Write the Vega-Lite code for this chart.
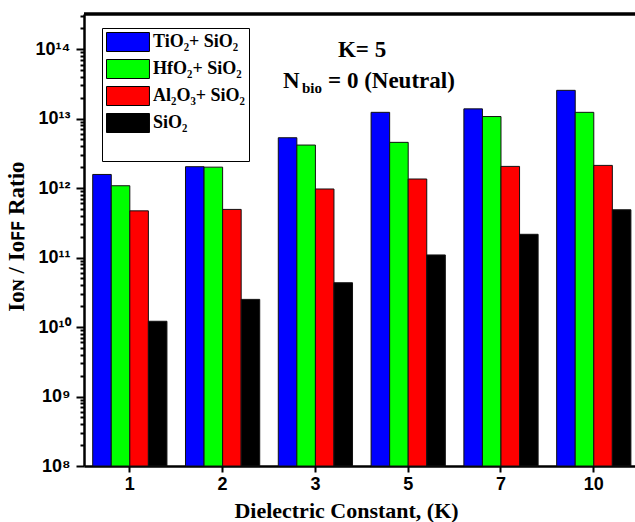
{
  "$schema": "https://vega.github.io/schema/vega-lite/v6.json",
  "width": 551,
  "height": 452,
  "autosize": {"type": "none"},
  "padding": {"left": 84, "top": 14, "right": 0, "bottom": 56},
  "background": "white",
  "config": {
    "view": {"stroke": null},
    "axisY": {"ticks": true, "tickSize": 8, "tickWidth": 2, "tickColor": "black", "tickOpacity": 1}
  },
  "data": {
    "values": [
      {"K": "1", "Material": "TiO₂+ SiO₂", "Ratio": 1.57e12},
      {"K": "1", "Material": "HfO₂+ SiO₂", "Ratio": 1.08e12},
      {"K": "1", "Material": "Al₂O₃+ SiO₂", "Ratio": 4.7e11},
      {"K": "1", "Material": "SiO₂", "Ratio": 1.21e10},
      {"K": "2", "Material": "TiO₂+ SiO₂", "Ratio": 2.03e12},
      {"K": "2", "Material": "HfO₂+ SiO₂", "Ratio": 2.0e12},
      {"K": "2", "Material": "Al₂O₃+ SiO₂", "Ratio": 4.93e11},
      {"K": "2", "Material": "SiO₂", "Ratio": 2.5e10},
      {"K": "3", "Material": "TiO₂+ SiO₂", "Ratio": 5.3e12},
      {"K": "3", "Material": "HfO₂+ SiO₂", "Ratio": 4.16e12},
      {"K": "3", "Material": "Al₂O₃+ SiO₂", "Ratio": 9.7e11},
      {"K": "3", "Material": "SiO₂", "Ratio": 4.34e10},
      {"K": "5", "Material": "TiO₂+ SiO₂", "Ratio": 1.23e13},
      {"K": "5", "Material": "HfO₂+ SiO₂", "Ratio": 4.55e12},
      {"K": "5", "Material": "Al₂O₃+ SiO₂", "Ratio": 1.35e12},
      {"K": "5", "Material": "SiO₂", "Ratio": 1.09e11},
      {"K": "7", "Material": "TiO₂+ SiO₂", "Ratio": 1.38e13},
      {"K": "7", "Material": "HfO₂+ SiO₂", "Ratio": 1.07e13},
      {"K": "7", "Material": "Al₂O₃+ SiO₂", "Ratio": 2.05e12},
      {"K": "7", "Material": "SiO₂", "Ratio": 2.16e11},
      {"K": "10", "Material": "TiO₂+ SiO₂", "Ratio": 2.55e13},
      {"K": "10", "Material": "HfO₂+ SiO₂", "Ratio": 1.23e13},
      {"K": "10", "Material": "Al₂O₃+ SiO₂", "Ratio": 2.12e12},
      {"K": "10", "Material": "SiO₂", "Ratio": 4.87e11}
    ]
  },
  "layer": [
    {
      "mark": {"type": "bar", "stroke": "#111111", "strokeWidth": 1, "opacity": 1, "fillOpacity": 1},
      "encoding": {
        "x": {
          "field": "K",
          "type": "nominal",
          "sort": ["1", "2", "3", "5", "7", "10"],
          "scale": {"paddingInner": 0.2, "paddingOuter": 0.069, "align": 0.68},
          "axis": {
            "labelAngle": 0,
            "tickSize": 6,
            "tickWidth": 2,
            "tickColor": "black",
            "domainColor": "black",
            "domainWidth": 2.5,
            "labelFont": "Liberation Sans",
            "labelFontWeight": "bold",
            "labelFontSize": 18,
            "labelColor": "black",
            "labelPadding": 3,
            "title": "Dielectric Constant, (K)",
            "titleFont": "Liberation Serif",
            "titleFontWeight": "bold",
            "titleFontSize": 22,
            "titleColor": "black",
            "titleX": 262,
            "titleY": 51,
            "titleAlign": "center",
            "titleBaseline": "alphabetic"
          }
        },
        "xOffset": {
          "field": "Material",
          "type": "nominal",
          "sort": ["TiO₂+ SiO₂", "HfO₂+ SiO₂", "Al₂O₃+ SiO₂", "SiO₂"],
          "scale": {"paddingInner": 0, "paddingOuter": 0}
        },
        "y": {
          "field": "Ratio",
          "type": "quantitative",
          "stack": null,
          "scale": {"type": "log", "domain": [1e8, 3.2e14], "nice": false},
          "axis": {
            "values": [1e8, 2e8, 3e8, 4e8, 5e8, 6e8, 7e8, 8e8, 9e8,
                       1e9, 2e9, 3e9, 4e9, 5e9, 6e9, 7e9, 8e9, 9e9,
                       1e10, 2e10, 3e10, 4e10, 5e10, 6e10, 7e10, 8e10, 9e10,
                       1e11, 2e11, 3e11, 4e11, 5e11, 6e11, 7e11, 8e11, 9e11,
                       1e12, 2e12, 3e12, 4e12, 5e12, 6e12, 7e12, 8e12, 9e12,
                       1e13, 2e13, 3e13, 4e13, 5e13, 6e13, 7e13, 8e13, 9e13,
                       1e14, 2e14, 3e14],
            "labelExpr": "abs(log(datum.value)/LN10 - round(log(datum.value)/LN10)) < 0.01 ? ['10⁸','10⁹','10¹⁰','10¹¹','10¹²','10¹³','10¹⁴'][round(log(datum.value)/LN10)-8] : ''",
            "ticks": true,
            "tickSize": 8,
            "tickWidth": 2,
            "tickColor": "black",
            "tickDash": {"condition": {"test": "abs(log(datum.value)/LN10 - round(log(datum.value)/LN10)) < 0.01", "value": [8, 0]}, "value": [4, 20]},
            "domainColor": "black",
            "domainWidth": 2.5,
            "grid": false,
            "labelOverlap": false,
            "labelFont": "Liberation Sans",
            "labelFontWeight": "bold",
            "labelFontSize": 18,
            "labelColor": "black",
            "labelPadding": 6,
            "title": "Iᴏɴ / Iᴏꜰꜰ Ratio",
            "titleFont": "Liberation Serif",
            "titleFontWeight": "bold",
            "titleFontSize": 23,
            "titleColor": "black",
            "titleX": -61,
            "titleY": 222,
            "titleAngle": 270,
            "titleAlign": "center",
            "titleBaseline": "alphabetic"
          }
        },
        "color": {
          "field": "Material",
          "type": "nominal",
          "scale": {
            "domain": ["TiO₂+ SiO₂", "HfO₂+ SiO₂", "Al₂O₃+ SiO₂", "SiO₂"],
            "range": ["#0000FF", "#00FF00", "#FF0000", "#000000"]
          },
          "legend": {
            "orient": "none",
            "legendX": 18,
            "legendY": 14,
            "title": " ",
            "titleOrient": "bottom",
            "titleFontSize": 18,
            "titlePadding": 4,
            "symbolType": "M-1,-1H3.52V1H-1Z",
            "symbolSize": 361,
            "symbolStrokeColor": "black",
            "symbolStrokeWidth": 1,
            "symbolOpacity": 1,
            "labelFont": "Liberation Serif",
            "labelFontWeight": "bold",
            "labelFontSize": 18,
            "labelColor": "black",
            "labelOffset": 27,
            "rowPadding": 3,
            "padding": 4,
            "strokeColor": "black",
            "fillColor": "white"
          }
        }
      }
    },
    {
      "data": {"values": [{}]},
      "mark": {"type": "rule", "strokeWidth": 3.5, "color": "black"},
      "encoding": {"y": {"datum": 3.2e14, "type": "quantitative"}}
    },
    {
      "data": {"values": [{}]},
      "mark": {"type": "text", "text": "K= 5", "font": "Liberation Serif", "fontWeight": "bold", "fontSize": 23, "align": "center", "baseline": "alphabetic", "dx": 9.5, "color": "black"},
      "encoding": {"x": {"datum": "3", "bandPosition": 1}, "y": {"datum": 7.7e13, "type": "quantitative"}}
    },
    {
      "data": {"values": [{}]},
      "mark": {"type": "text", "text": "N", "font": "Liberation Serif", "fontWeight": "bold", "fontSize": 23, "align": "left", "baseline": "alphabetic", "dx": -69.5, "color": "black"},
      "encoding": {"x": {"datum": "3", "bandPosition": 1}, "y": {"datum": 2.75e13, "type": "quantitative"}}
    },
    {
      "data": {"values": [{}]},
      "mark": {"type": "text", "text": "bio", "font": "Liberation Serif", "fontWeight": "bold", "fontSize": 15, "align": "left", "baseline": "alphabetic", "dx": -50.5, "dy": 5, "color": "black"},
      "encoding": {"x": {"datum": "3", "bandPosition": 1}, "y": {"datum": 2.75e13, "type": "quantitative"}}
    },
    {
      "data": {"values": [{}]},
      "mark": {"type": "text", "text": "= 0 (Neutral)", "font": "Liberation Serif", "fontWeight": "bold", "fontSize": 23, "align": "left", "baseline": "alphabetic", "dx": -24.5, "color": "black"},
      "encoding": {"x": {"datum": "3", "bandPosition": 1}, "y": {"datum": 2.75e13, "type": "quantitative"}}
    }
  ]
}
